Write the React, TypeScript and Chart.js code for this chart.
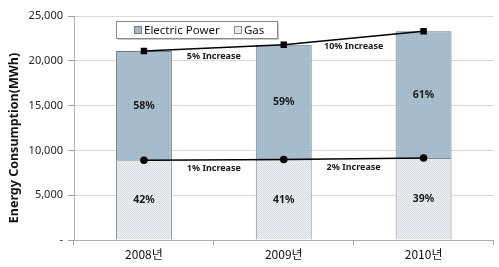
import React, { useEffect, useRef } from "react";
import { Chart, registerables } from "chart.js";

Chart.register(...registerables);

const categories = ["2008년", "2009년", "2010년"];
const gasValues = [8900, 8980, 9150];
const electricValues = [12200, 12820, 14150];
const totalValues = [21100, 21800, 23300];
const electricShareLabels = ["58%", "59%", "61%"];
const gasShareLabels = ["42%", "41%", "39%"];
const totalIncreaseLabels = ["5% Increase", "10% Increase"];
const gasIncreaseLabels = ["1% Increase", "2% Increase"];
const yTicks = [0, 5000, 10000, 15000, 20000, 25000];
const seriesNames = ["Electric Power", "Gas"];
const yTitle = "Energy Consumption(MWh)";

const FONT = "'Noto Sans', 'Liberation Sans', Arial, sans-serif";

function makePattern(a: string, b: string, kind: "dot" | "check") {
  const c = document.createElement("canvas");
  c.width = 2;
  c.height = 2;
  const ctx = c.getContext("2d")!;
  ctx.fillStyle = a;
  ctx.fillRect(0, 0, 2, 2);
  ctx.fillStyle = b;
  if (kind === "dot") {
    ctx.fillRect(0, 0, 1, 1);
  } else {
    ctx.fillRect(0, 0, 1, 1);
    ctx.fillRect(1, 1, 1, 1);
  }
  return ctx.createPattern(c, "repeat")!;
}

export default function App() {
  const ref = useRef<HTMLCanvasElement>(null);
  useEffect(() => {
    document.body.style.margin = "0";
    const canvas = ref.current!;
    const ctx0 = canvas.getContext("2d")!;
    const elecFill = makePattern("#a9bfcf", "#9db3c3", "dot");
    const gasFill = makePattern("#eef1f4", "#d6dce2", "check");

    const overlay = {
      id: "overlay",
      afterDatasetsDraw(chart: any) {
        const ctx = chart.ctx;
        const xs = chart.scales.x;
        const ys = chart.scales.y;
        ctx.save();
        ctx.fillStyle = "#1a1a1a";
        ctx.textAlign = "center";
        ctx.textBaseline = "middle";
        ctx.font = `bold 10.5px ${FONT}`;
        for (let i = 0; i < categories.length; i++) {
          const x = xs.getPixelForValue(i);
          const yE = (ys.getPixelForValue(gasValues[i]) + ys.getPixelForValue(totalValues[i])) / 2;
          const yG = (ys.getPixelForValue(0) + ys.getPixelForValue(gasValues[i])) / 2;
          ctx.fillText(electricShareLabels[i], x, yE);
          ctx.fillText(gasShareLabels[i], x, yG);
        }
        ctx.font = `bold 9px ${FONT}`;
        for (let i = 0; i < categories.length - 1; i++) {
          const x = (xs.getPixelForValue(i) + xs.getPixelForValue(i + 1)) / 2;
          const yT = (ys.getPixelForValue(totalValues[i]) + ys.getPixelForValue(totalValues[i + 1])) / 2 + 8.5;
          const yG = (ys.getPixelForValue(gasValues[i]) + ys.getPixelForValue(gasValues[i + 1])) / 2 + 8.5;
          ctx.fillText(totalIncreaseLabels[i], x, yT);
          ctx.fillText(gasIncreaseLabels[i], x, yG);
        }
        // y title
        ctx.save();
        ctx.translate(14, 138);
        ctx.rotate(-Math.PI / 2);
        ctx.font = `bold 12.5px ${FONT}`;
        ctx.fillStyle = "#111";
        ctx.fillText(yTitle, 0, 0);
        ctx.restore();
        // legend
        const lx = 116, ly = 21, lw = 161, lh = 17;
        ctx.fillStyle = "#c8c8c8";
        ctx.fillRect(lx + 2, ly + 2, lw, lh);
        ctx.fillStyle = "#ffffff";
        ctx.fillRect(lx, ly, lw, lh);
        ctx.strokeStyle = "#8a8a8a";
        ctx.lineWidth = 1;
        ctx.strokeRect(lx + 0.5, ly + 0.5, lw, lh);
        ctx.font = `11.5px ${FONT}`;
        ctx.textAlign = "left";
        ctx.fillStyle = "#111";
        const entries = [
          { x: 134, fill: "#a3b9c9", stroke: "#6d7d8a", label: seriesNames[0] },
          { x: 234, fill: "#e9ebed", stroke: "#8a8a8a", label: seriesNames[1] },
        ];
        for (const e of entries) {
          ctx.fillStyle = e.fill;
          ctx.fillRect(e.x, ly + 5, 7, 7);
          ctx.strokeStyle = e.stroke;
          ctx.strokeRect(e.x + 0.5, ly + 5.5, 7, 7);
          ctx.fillStyle = "#111";
          ctx.fillText(e.label, e.x + 10, ly + 9.5);
        }
        ctx.restore();
      },
    };

    const chart = new Chart(ctx0, {
      data: {
        labels: categories,
        datasets: [
          {
            type: "line",
            label: "Total",
            data: totalValues,
            yAxisID: "y2",
            borderColor: "#000",
            borderWidth: 1.5,
            pointStyle: "rect",
            pointRadius: 3.5,
            pointBackgroundColor: "#000",
            pointBorderColor: "#000",
            order: 0,
          },
          {
            type: "line",
            label: "GasLine",
            data: gasValues,
            yAxisID: "y2",
            borderColor: "#000",
            borderWidth: 1.5,
            pointStyle: "circle",
            pointRadius: 3,
            pointBackgroundColor: "#000",
            pointBorderColor: "#000",
            order: 0,
          },
          {
            type: "bar",
            label: seriesNames[1],
            data: gasValues,
            backgroundColor: gasFill,
            borderColor: "#7d8a95",
            borderWidth: 1,
            categoryPercentage: 1,
            barPercentage: 0.4,
            order: 1,
          },
          {
            type: "bar",
            label: seriesNames[0],
            data: electricValues,
            backgroundColor: elecFill,
            borderColor: "#6d7d8a",
            borderWidth: 1,
            categoryPercentage: 1,
            barPercentage: 0.4,
            order: 1,
          },
        ],
      } as any,
      options: {
        animation: false,
        responsive: false,
        layout: { padding: { top: 16, right: 0, left: 0, bottom: 0 } },
        plugins: { legend: { display: false }, tooltip: { enabled: false } },
        scales: {
          x: {
            stacked: true,
            grid: { offset: true, drawOnChartArea: false, drawTicks: true, tickLength: 5, color: "#a0a0a0" },
            border: { color: "#b0b0b0" },
            ticks: {
              color: "#111",
              padding: 2,
              font: { size: 12, family: "'Noto Sans CJK KR', 'Noto Sans', sans-serif" },
            },
            afterFit: (s: any) => {
              s.height = 27;
            },
          },
          y: {
            stacked: true,
            min: 0,
            max: 25000,
            afterBuildTicks: (s: any) => {
              s.ticks = yTicks.map((v) => ({ value: v }));
            },
            grid: { color: "#d9d9d9", tickLength: 6, tickColor: "#a0a0a0" },
            border: { color: "#b0b0b0" },
            ticks: {
              color: "#222",
              padding: 5,
              font: { size: 11, family: FONT },
              callback: (v: any) => (Number(v) === 0 ? "-" : Number(v).toLocaleString("en-US")),
            },
            afterFit: (s: any) => {
              s.width = 74;
            },
          },
          y2: {
            display: false,
            min: 0,
            max: 25000,
          },
        },
      },
      plugins: [overlay],
    } as any);
    return () => chart.destroy();
  }, []);
  return <canvas ref={ref} width={499} height={267} style={{ display: "block" }} />;
}
